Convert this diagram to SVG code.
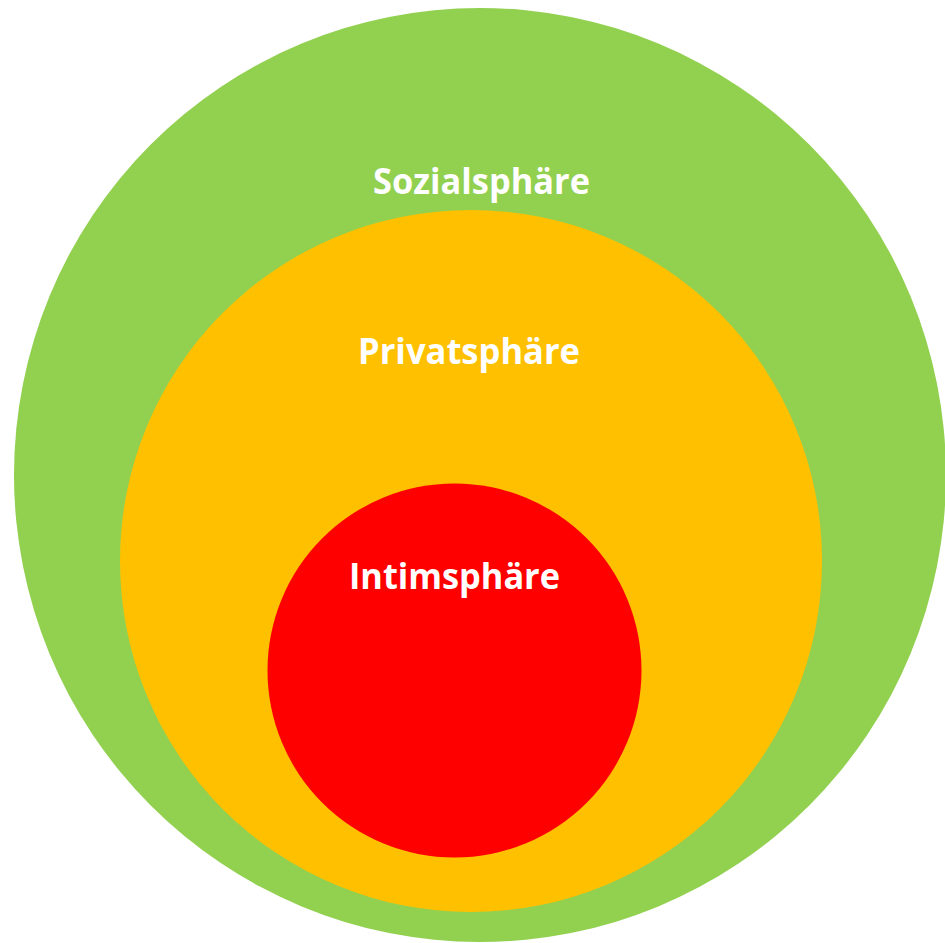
<svg xmlns="http://www.w3.org/2000/svg" width="945" height="943" viewBox="0 0 945 943">
<style>
.lbl{font-family:"Open Sans","Liberation Sans",sans-serif;font-weight:bold;font-size:35px;fill:#ffffff;text-anchor:middle}
</style>
<rect width="945" height="943" fill="#ffffff"/>
<g id="sozial">
<ellipse cx="480" cy="475" rx="466" ry="467" fill="#92d050"/>
<text class="lbl" x="481.5" y="194" textLength="217" lengthAdjust="spacingAndGlyphs">Sozialsphäre</text>
</g>
<g id="privat">
<circle cx="471" cy="561" r="351" fill="#ffc000"/>
<text class="lbl" x="469" y="364" textLength="222" lengthAdjust="spacingAndGlyphs">Privatsphäre</text>
</g>
<g id="intim">
<circle cx="454.5" cy="670.5" r="187" fill="#ff0000"/>
<text class="lbl" x="454.5" y="589" textLength="211" lengthAdjust="spacingAndGlyphs">Intimsphäre</text>
</g>
<g id="connectors"/>
</svg>
